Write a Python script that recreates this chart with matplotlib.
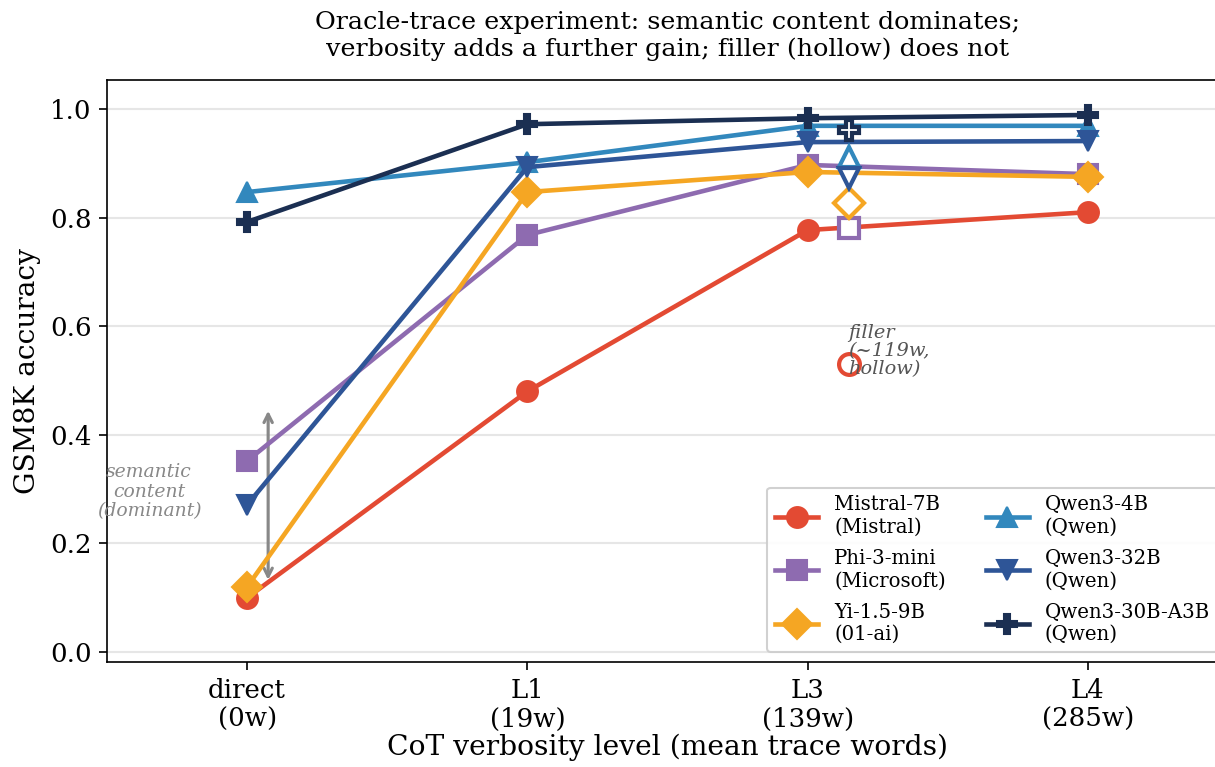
import matplotlib
matplotlib.use("Agg")
import matplotlib.pyplot as plt
import numpy as np

plt.rcParams['font.family'] = ['DejaVu Serif']

levels = ["direct\n(0w)", "L1\n(19w)", "L3\n(139w)", "L4\n(285w)"]
models = ["Mistral-7B\n(Mistral)", "Phi-3-mini\n(Microsoft)", "Yi-1.5-9B\n(01-ai)",
          "Qwen3-4B\n(Qwen)", "Qwen3-32B\n(Qwen)", "Qwen3-30B-A3B\n(Qwen)"]
mistral = [0.10, 0.48, 0.777, 0.810]
phi = [0.352, 0.768, 0.897, 0.880]
yi = [0.12, 0.847, 0.884, 0.875]
qwen4b = [0.847, 0.902, 0.969, 0.969]
qwen32b = [0.271, 0.893, 0.939, 0.941]
qwen30b = [0.792, 0.972, 0.983, 0.989]
filler = [0.530, 0.781, 0.827, 0.912, 0.873, 0.961]

colors = ["#E34A33", "#8E6BB0", "#F5A623", "#3288BD", "#2E5597", "#1B2F52"]
markers = ["o", "s", "D", "^", "v", "P"]
series = [mistral, phi, yi, qwen4b, qwen32b, qwen30b]

fig = plt.figure(figsize=(8.1, 767/150), dpi=150)
ax = fig.add_axes([107/1215, 1-662/767, 1121/1215, (662-80)/767])

x = np.arange(len(levels))
for vals, c, m, lab in zip(series, colors, markers, models):
    ax.plot(x, vals, color=c, marker=m, markersize=10, linewidth=2.2, label=lab, zorder=3)

fx = 2 + 0.146
for fv, c, m in zip(filler, colors, markers):
    ax.plot([fx], [fv], linestyle='none', marker=m, markersize=10, markerfacecolor='white',
            markeredgecolor=c, markeredgewidth=2.0, zorder=4)

ax.text(fx, 0.604, "filler\n(~119w,\nhollow)", fontsize=9.3, style='italic', color='#555555',
        ha='left', va='top', linespacing=1.0, zorder=5)

ax.annotate("", xy=(0.075, 0.125), xytext=(0.075, 0.452),
            arrowprops=dict(arrowstyle='<->', color='#888888', lw=1.5), zorder=2)
ax.text(-0.35, 0.295, "semantic\ncontent\n(dominant)", fontsize=9, style='italic', color='#888888',
        ha='center', va='center', linespacing=1.1)

ax.set_xlim(-0.5, 3.5)
ax.set_ylim(-0.0184, 1.0534)
ax.set_xticks(x)
ax.set_xticklabels(levels, fontsize=12.5)
ax.set_yticks([0.0, 0.2, 0.4, 0.6, 0.8, 1.0])
ax.tick_params(axis='y', labelsize=12.5)
ax.tick_params(axis='both', length=4)
ax.yaxis.grid(True, color='#e6e6e6', linewidth=1.0, zorder=0)
ax.set_axisbelow(True)
ax.set_ylabel("GSM8K accuracy", fontsize=13.5)
ax.set_xlabel("CoT verbosity level (mean trace words)", fontsize=13.5, labelpad=1)
ax.set_title("Oracle-trace experiment: semantic content dominates;\nverbosity adds a further gain; filler (hollow) does not",
             fontsize=12.2, pad=11.5)

ax.legend(loc='lower right', ncol=2, fontsize=9.5, frameon=True, framealpha=0.9,
          columnspacing=2.0, handlelength=2.2, borderaxespad=0.5, labelspacing=0.65)

fig.savefig("out.png", dpi=150)
